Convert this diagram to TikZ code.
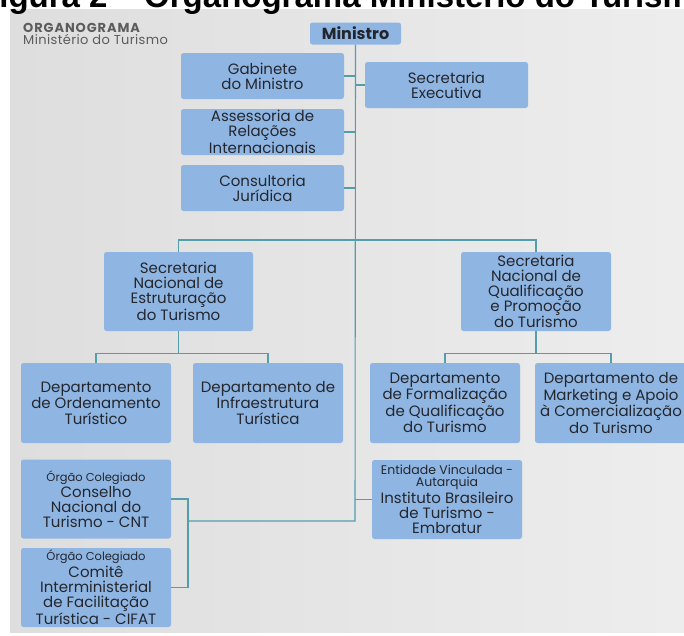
\documentclass[tikz,border=0pt]{standalone}
\usepackage{fontspec}
\setmainfont{Poppins}
\newfontfamily\titlefont{Liberation Sans}
\usetikzlibrary{positioning}

\definecolor{caixa}{RGB}{143,182,226}
\definecolor{linha}{RGB}{84,158,172}
\definecolor{texto}{RGB}{36,38,46}
\definecolor{cinza}{RGB}{92,92,92}

\tikzset{
  orgbox/.style={fill=caixa, rounded corners=2.5pt, text=texto, align=center,
    inner sep=0pt, font=\fontsize{15}{15}\selectfont},
  liga/.style={draw=linha, line width=1.1pt},
}
\newcommand{\pequeno}[1]{{\fontsize{11.5}{11.5}\selectfont #1}}

\begin{document}
\begin{tikzpicture}[x=1pt, y=-1pt]
\useasboundingbox (0,0) rectangle (684,635);
\clip (0,0) rectangle (684,635);

% Fundo
\fill[left color=black!13, right color=black!7] (10,9) rectangle (684,632);
\node[anchor=base west, inner sep=0pt, font=\titlefont\bfseries\fontsize{33}{33}\selectfont]
  (titulo) at (-21,7.5) {Figura 2 – Organograma Ministério do Turismo};
\node[anchor=north west, inner sep=0pt, align=left, text=cinza] (cabecalho) at (23,23)
  {{\bfseries\fontsize{13}{13}\addfontfeature{LetterSpace=7}\selectfont ORGANOGRAMA}\\[0pt]
   {\fontsize{13}{13}\addfontfeature{LetterSpace=3}\selectfont Ministério do Turismo}};

% Nivel superior
\node[orgbox, minimum width=91, minimum height=22, font=\bfseries\fontsize{16}{16}\selectfont]
  (ministro) at (355.5,33.5) {Ministro};
\node[orgbox, minimum width=163, minimum height=46] (gabinete) at (262.5,76) {Gabinete\\do Ministro};
\node[orgbox, minimum width=163, minimum height=46] (assessoria) at (262.5,132) {Assessoria de\\Relações\\Internacionais};
\node[orgbox, minimum width=163, minimum height=46] (consultoria) at (262.5,188) {Consultoria\\Jurídica};
\node[orgbox, minimum width=163, minimum height=46] (secexec) at (446.5,85) {Secretaria\\Executiva};

% Secretarias nacionais
\node[orgbox, minimum width=149, minimum height=79] (snet) at (178.5,291.5)
  {Secretaria\\Nacional de\\Estruturação\\do Turismo};
\node[orgbox, minimum width=150, minimum height=79] (snqpt) at (536,291.5)
  {Secretaria\\Nacional de\\Qualificação\\e Promoção\\do Turismo};

% Departamentos
\node[orgbox, minimum width=150, minimum height=80, font=\fontsize{15}{16}\selectfont]
  (ordenamento) at (96,403) {Departamento\\de Ordenamento\\Turístico};
\node[orgbox, minimum width=150, minimum height=80, font=\fontsize{15}{16}\selectfont]
  (infra) at (268,403) {Departamento de\\Infraestrutura\\Turística};
\node[orgbox, minimum width=150, minimum height=80] (formalizacao) at (445,403)
  {Departamento\\de Formalização\\de Qualificação\\do Turismo};
\node[orgbox, minimum width=152, minimum height=80] (marketing) at (611,403)
  {Departamento de\\Marketing e Apoio\\à Comercialização\\do Turismo};

% Colegiados e entidade
\node[orgbox, minimum width=150, minimum height=79] (conselho) at (96,499)
  {\pequeno{Órgão Colegiado}\\[1pt]Conselho\\Nacional do\\Turismo - CNT};
\node[orgbox, minimum width=150, minimum height=79] (comite) at (96,587.5)
  {\pequeno{Órgão Colegiado}\\[2pt]Comitê\\Interministerial\\de Facilitação\\Turística - CIFAT};
\node[orgbox, minimum width=150, minimum height=79] (embratur) at (447,499.5)
  {{\fontsize{12.5}{12.5}\selectfont\renewcommand\arraystretch{0.6}\begin{tabular}{@{}c@{}}Entidade Vinculada -\\Autarquia\end{tabular}}\\[2pt]Instituto Brasileiro\\de Turismo -\\Embratur};

% Ligacoes
\coordinate (tronco) at (355,521);
\coordinate (chave) at (188,521);
\coordinate (eixo) at (355,240);
\draw[liga] (ministro.south) -- (tronco) -- (chave);
\foreach \n in {gabinete, assessoria, consultoria}
  \draw[liga] (\n.east) -- (\n.east -| tronco);
\foreach \n in {secexec, embratur}
  \draw[liga] (\n.west) -- (\n.west -| tronco);
\draw[liga] (snet.north) |- (eixo) -| (snqpt.north);

\draw[liga] (snet.south) -- ++(0,22.5) coordinate (ramoA);
\draw[liga] (ordenamento.north) |- (ramoA) -| (infra.north);
\draw[liga] (snqpt.south) -- ++(0,22.5) coordinate (ramoB);
\draw[liga] (formalizacao.north) |- (ramoB) -| (marketing.north);

\draw[liga] (conselho.east) -| (chave);
\draw[liga] (comite.east) -| (chave);
\end{tikzpicture}
\end{document}
